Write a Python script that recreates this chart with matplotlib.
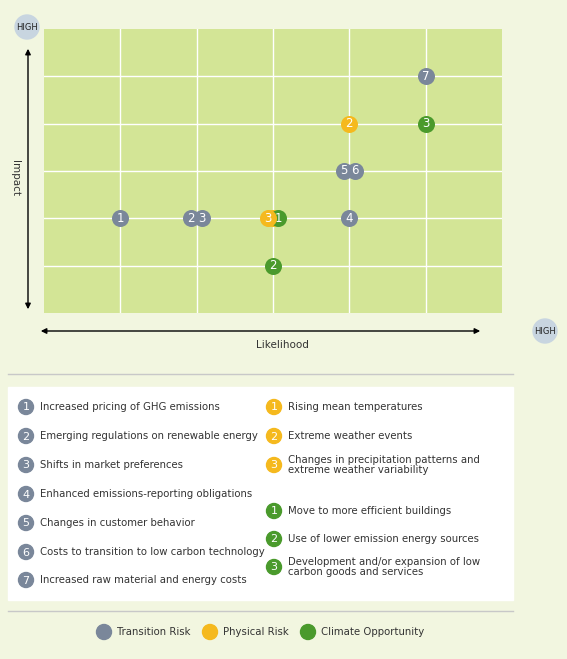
import matplotlib.pyplot as plt
from matplotlib.patches import Circle, Rectangle

# risk matrix data (likelihood, impact) in grid units 0..6
transition_labels = ['1', '2', '3', '4', '5', '6', '7']
transition_x = [1, 1.93, 2.07, 4, 3.93, 4.07, 5]
transition_y = [2, 2, 2, 2, 3, 3, 5]
physical_labels = ['1', '2', '3']
physical_x = [3.0, 4, 2.93]
physical_y = [2, 4, 2]
climate_labels = ['1', '2', '3']
climate_x = [3.07, 3, 5]
climate_y = [2, 1, 4]

transition_items = ['Increased pricing of GHG emissions',
                    'Emerging regulations on renewable energy',
                    'Shifts in market preferences',
                    'Enhanced emissions-reporting obligations',
                    'Changes in customer behavior',
                    'Costs to transition to low carbon technology',
                    'Increased raw material and energy costs']
physical_items = ['Rising mean temperatures',
                  'Extreme weather events',
                  'Changes in precipitation patterns and\nextreme weather variability']
climate_items = ['Move to more efficient buildings',
                 'Use of lower emission energy sources',
                 'Development and/or expansion of low\ncarbon goods and services']
group_names = ['Transition Risk', 'Physical Risk', 'Climate Opportunity']

GREY, YELLOW, GREEN = '#7a879a', '#f5b91e', '#4a9a2c'
W, H = 567, 659
fig = plt.figure(figsize=(W / 100, H / 100), dpi=100, facecolor='#f2f6e0')

# overlay for decorations in pixel coords
bg = fig.add_axes([0, 0, 1, 1])
bg.set_xlim(0, W)
bg.set_ylim(H, 0)
bg.axis('off')

ax = fig.add_axes([44 / W, (H - 313) / H, 458 / W, 284 / H])
ax.set_facecolor('#d3e596')
ax.set_xlim(0, 6)
ax.set_ylim(0, 6)
for i in range(1, 6):
    ax.axvline(i, color='white', lw=1)
    ax.axhline(i, color='white', lw=1)
ax.set_xticks([])
ax.set_yticks([])
for s in ax.spines.values():
    s.set_visible(False)

def plot_group(xs, ys, labels, color, z=3, show_text=True):
    ax.scatter(xs, ys, s=150, color=color, zorder=z, linewidths=0)
    if show_text:
        for x, y, t in zip(xs, ys, labels):
            ax.text(x, y, t, color='white', fontsize=8.5, ha='center', va='center', zorder=z + 0.5)

# physical 1 sits hidden under the overlapping markers
plot_group(physical_x[:1], physical_y[:1], physical_labels[:1], YELLOW, z=2, show_text=False)
plot_group(transition_x, transition_y, transition_labels, GREY)
plot_group(climate_x, climate_y, climate_labels, GREEN, z=3)
plot_group(physical_x[1:], physical_y[1:], physical_labels[1:], YELLOW, z=5)

# axis arrows and labels
bg.annotate('', xy=(28, 46), xytext=(28, 312),
            arrowprops=dict(arrowstyle='<|-|>', color='black', lw=1, mutation_scale=8))
bg.annotate('', xy=(38, 331), xytext=(483, 331),
            arrowprops=dict(arrowstyle='<|-|>', color='black', lw=1, mutation_scale=8))
for cx, cy in [(27, 27), (545, 331)]:
    bg.add_patch(Circle((cx, cy), 12, color='#c8d5e0'))
    bg.text(cx, cy, 'HIGH', fontsize=6, ha='center', va='center', color='#222222')
bg.text(15, 178, 'Impact', rotation=-90, fontsize=7.5, ha='center', va='center', color='#333333')
bg.text(282, 345, 'Likelihood', fontsize=7.5, ha='center', va='center', color='#333333')

# legend box
bg.plot([8, 513], [374, 374], color='#c8c8c8', lw=1)
bg.plot([8, 513], [611, 611], color='#c8c8c8', lw=1)
bg.add_patch(Rectangle((8, 387), 505, 213, color='white'))

def item(cx, cy, num, text, color):
    bg.add_patch(Circle((cx, cy), 7.5, color=color))
    bg.text(cx, cy + 0.5, num, color='white', fontsize=8, ha='center', va='center')
    bg.text(cx + 14, cy, text, fontsize=7.3, ha='left', va='center', color='#333333',
            linespacing=0.95)

left_y = [407, 436, 465, 494, 523, 552, 580]
for y, (n, t) in zip(left_y, zip(transition_labels, transition_items)):
    item(26, y, n, t, GREY)
for y, (n, t) in zip([407, 436, 465], zip(physical_labels, physical_items)):
    item(274, y, n, t, YELLOW)
for y, (n, t) in zip([511, 539, 567], zip(climate_labels, climate_items)):
    item(274, y, n, t, GREEN)

for cx, name, color in zip([104, 210, 308], group_names, [GREY, YELLOW, GREEN]):
    bg.add_patch(Circle((cx, 632), 7.5, color=color))
    bg.text(cx + 13, 632, name, fontsize=7.3, ha='left', va='center', color='#333333')

fig.savefig('out.png', dpi=100, facecolor=fig.get_facecolor())
